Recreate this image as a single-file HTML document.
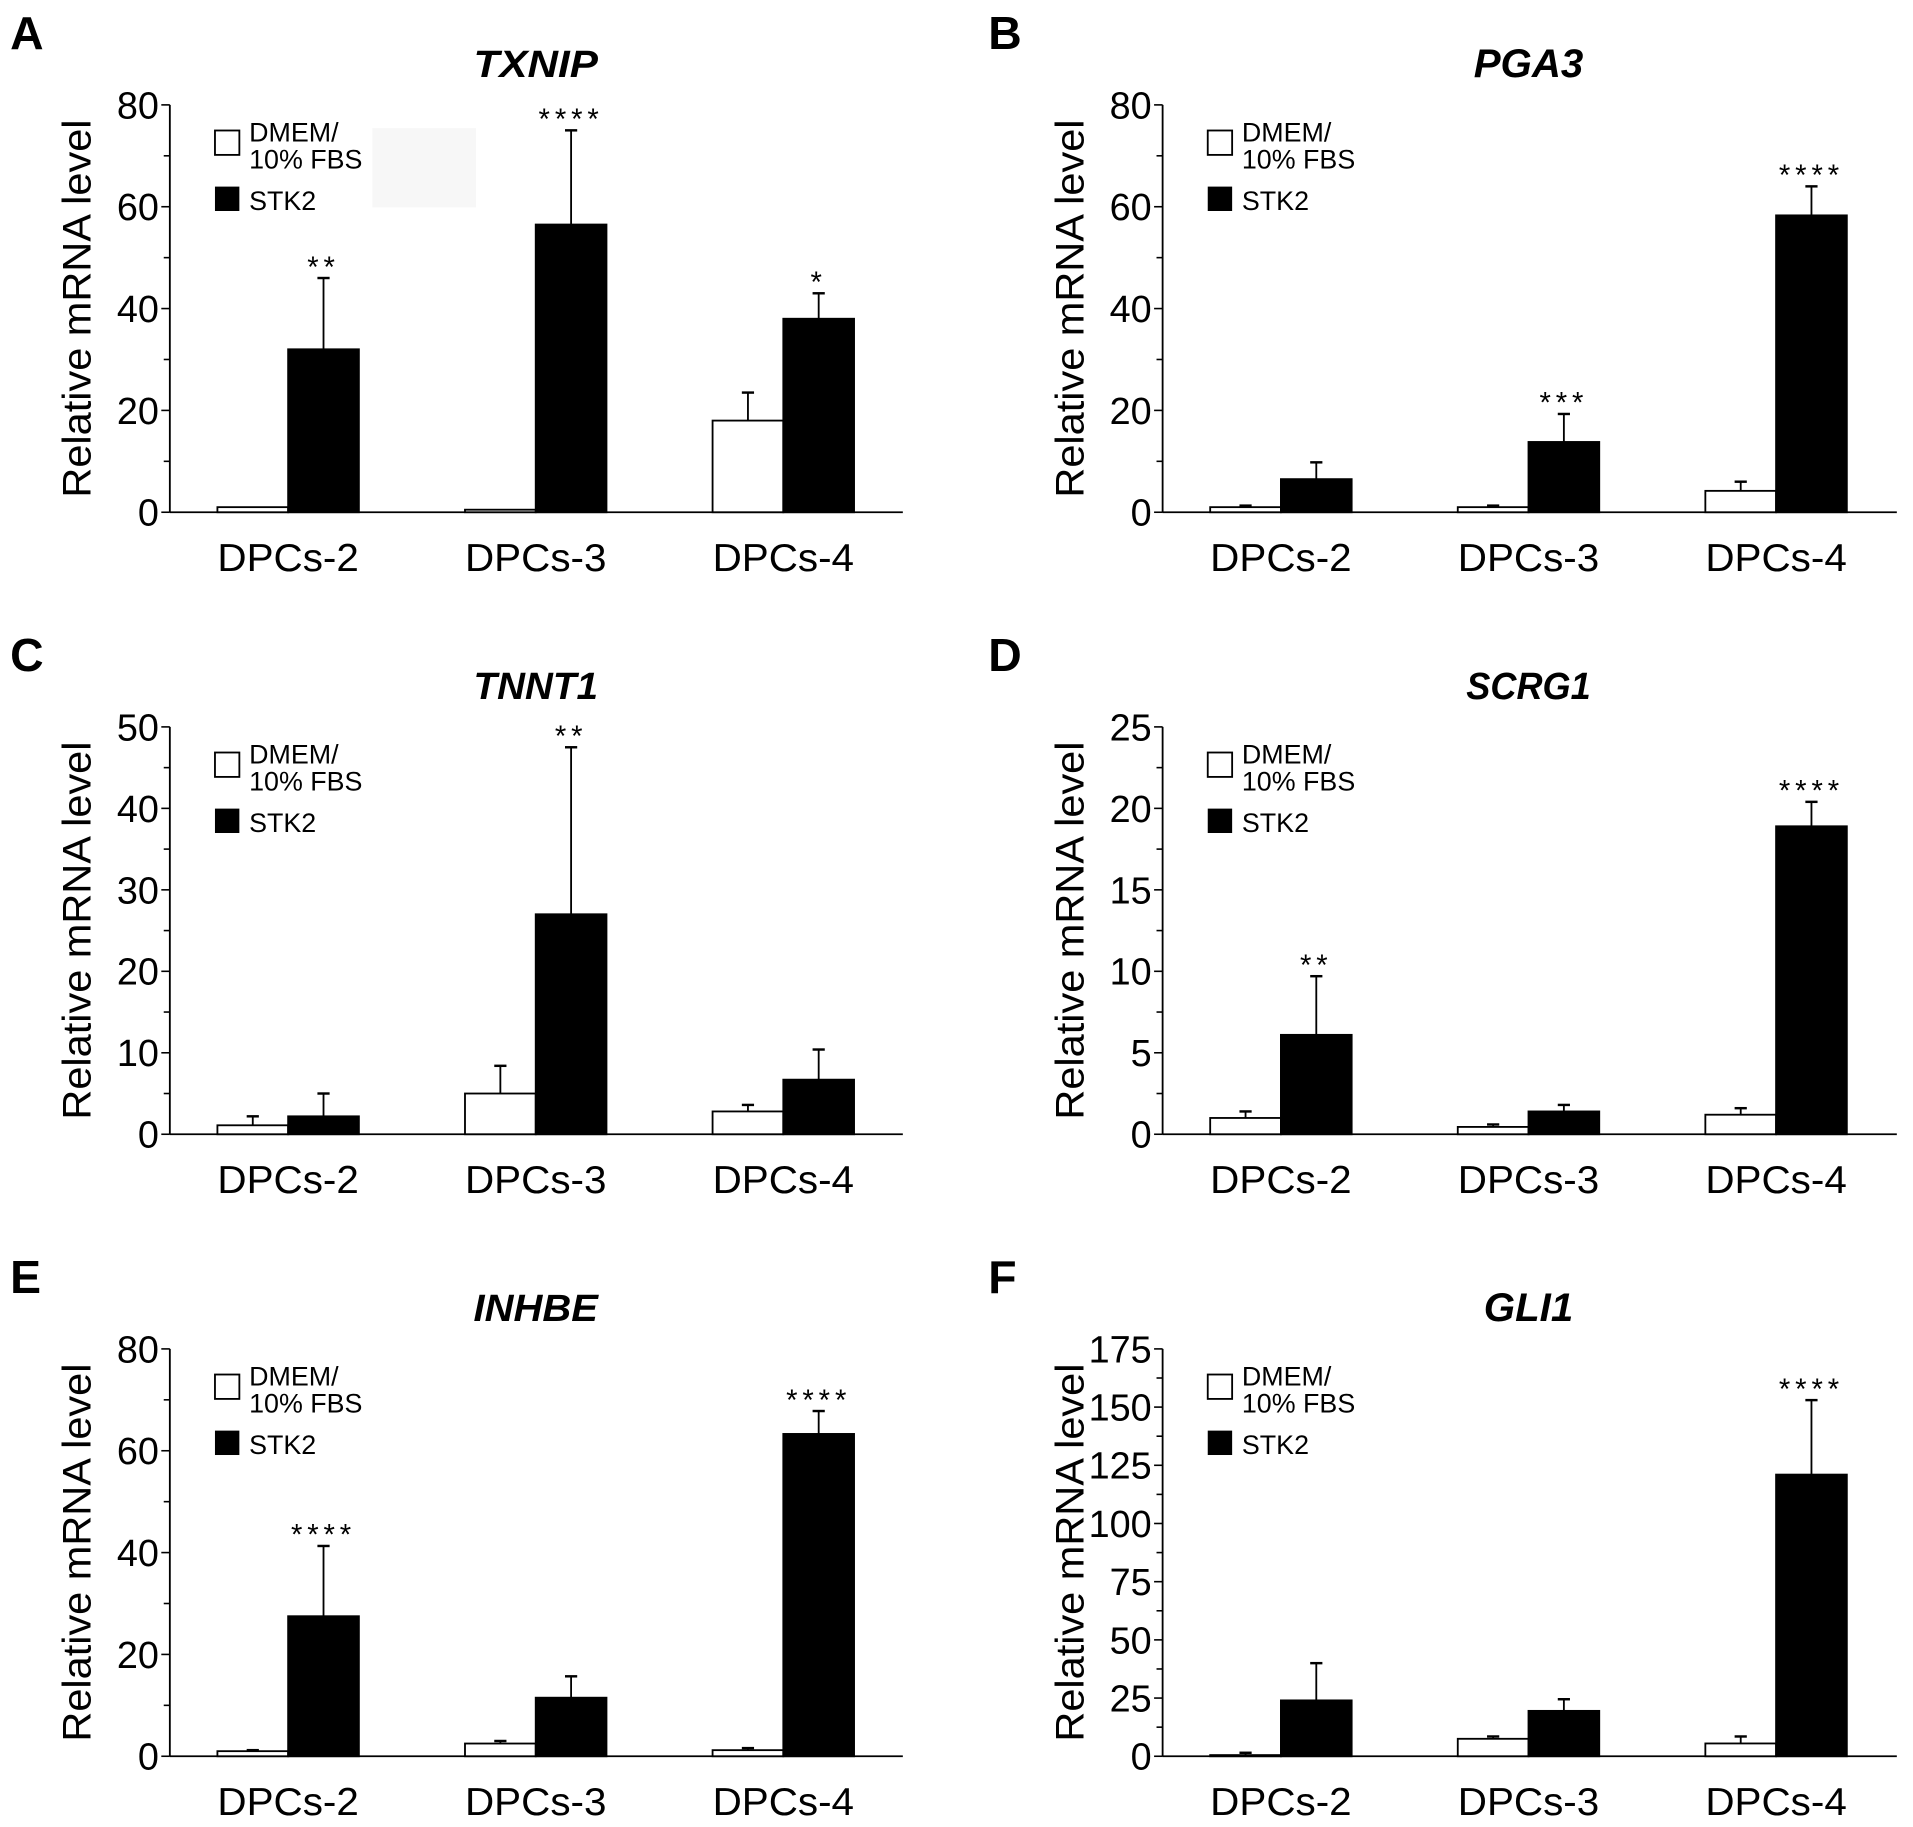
<!DOCTYPE html>
<html><head><meta charset="utf-8"><style>
html,body{margin:0;padding:0;background:#fff;}
svg{display:block;font-family:"Liberation Sans",Arial,sans-serif;}
</style></head><body>
<svg id="fig" width="1913" height="1827" viewBox="0 0 1568 1498" xmlns="http://www.w3.org/2000/svg">
<rect x="0" y="0" width="1568" height="1498" fill="#fff"/>
<rect x="305" y="105" width="85" height="65" fill="#f7f7f7"/>
</svg>
<script>
const categories = ["DPCs-2","DPCs-3","DPCs-4"];
const panelLetters = ["A","B","C","D","E","F"];
const panelTitles = ["TXNIP","PGA3","TNNT1","SCRG1","INHBE","GLI1"];
const yMaxes = [80,80,50,25,80,175];
const yTickSteps = [20,20,10,5,20,25];
const whiteA = [1,0.5,18];      const whiteErrA = [1,0.5,23.5];
const blackA = [32,56.5,38];    const blackErrA = [46,75,43];
const starsA = ["**","****","*"];
const whiteB = [1,1,4.2];       const whiteErrB = [1.3,1.3,6];
const blackB = [6.5,13.8,58.3]; const blackErrB = [9.8,19.3,64];
const starsB = ["","***","****"];
const whiteC = [1.1,5,2.8];     const whiteErrC = [2.2,8.4,3.6];
const blackC = [2.2,27,6.7];    const blackErrC = [5,47.5,10.4];
const starsC = ["","**",""];
const whiteD = [1,0.45,1.2];    const whiteErrD = [1.4,0.6,1.6];
const blackD = [6.1,1.4,18.9];  const blackErrD = [9.7,1.8,20.4];
const starsD = ["**","","****"];
const whiteE = [1,2.5,1.2];     const whiteErrE = [1.2,3,1.6];
const blackE = [27.5,11.5,63.3];const blackErrE = [41.3,15.7,67.8];
const starsE = ["****","","****"];
const whiteF = [0.5,7.5,5.5];   const whiteErrF = [1.5,8.5,8.5];
const blackF = [24,19.5,121];   const blackErrF = [40,24.5,153];
const starsF = ["","","****"];

const whites=[whiteA,whiteB,whiteC,whiteD,whiteE,whiteF];
const whiteErrs=[whiteErrA,whiteErrB,whiteErrC,whiteErrD,whiteErrE,whiteErrF];
const blacks=[blackA,blackB,blackC,blackD,blackE,blackF];
const blackErrs=[blackErrA,blackErrB,blackErrC,blackErrD,blackErrE,blackErrF];
const starsAll=[starsA,starsB,starsC,starsD,starsE,starsF];

const NS="http://www.w3.org/2000/svg";
const svg=document.getElementById('fig');
function mk(tag,attrs,parent){const e=document.createElementNS(NS,tag);for(const k in attrs)e.setAttribute(k,attrs[k]);(parent||svg).appendChild(e);return e;}

for(let p=0;p<6;p++){
  const col=p%2,row=Math.floor(p/2);
  const ax=col?953:139, axR=col?1555:740;
  const y0=[420,930,1440][row], yT=y0-334;
  const g=mk('g',{});
  
  
  const ys=v=>y0-(v/yMaxes[p])*(y0-yT);
  const groupC=i=>ax+97+i*203;
  let t=mk('text',{x:col?810:8,y:y0-380,'font-size':38,'font-weight':'bold'},g);t.textContent=panelLetters[p];
  
  t=mk('text',{x:ax+300,y:y0-357,'font-size':31,'font-weight':'bold','font-style':'italic','text-anchor':'middle',textLength:102,lengthAdjust:'spacingAndGlyphs'},g);t.textContent=panelTitles[p];
  if(panelTitles[p].length<5){t.removeAttribute('textLength');t.removeAttribute('lengthAdjust');t.setAttribute('font-size',33);}
  
  t=mk('text',{x:0,y:0,'font-size':33,'text-anchor':'middle',transform:`translate(${ax-65},${(y0+yT)/2}) rotate(-90)`,textLength:310,lengthAdjust:'spacingAndGlyphs'},g);t.textContent='Relative mRNA level';
  
  let l=mk('line',{x1:ax,y1:yT,x2:ax,y2:y0,stroke:'#000','stroke-width':1.5},g);
  
  l=mk('line',{x1:ax,y1:y0,x2:axR,y2:y0,stroke:'#000','stroke-width':1.5},g);
  
  const st=yTickSteps[p];
  for(let v=0;v<=yMaxes[p]+1e-9;v+=st/2){
    const major=Math.abs(v/st-Math.round(v/st))<1e-6;
    mk('line',{x1:ax-(major?7:5),y1:ys(v),x2:ax,y2:ys(v),stroke:'#000','stroke-width':1.3},g);
    if(major){t=mk('text',{x:ax-9,y:ys(v)+11,'font-size':31,'text-anchor':'end'},g);t.textContent=v;
      }
  }
  for(let i=0;i<3;i++){
    const c=groupC(i);
    t=mk('text',{x:c,y:y0+48,'font-size':32,'text-anchor':'middle',textLength:116,lengthAdjust:'spacingAndGlyphs'},g);t.textContent=categories[i];
    
    [[whiteErrs[p][i],whites[p][i],c-29],[blackErrs[p][i],blacks[p][i],c+29]].forEach(([e,v,cx])=>{
      if(e>v){mk('line',{x1:cx,y1:ys(v),x2:cx,y2:ys(e),stroke:'#000','stroke-width':1.5},g);
        mk('line',{x1:cx-5,y1:ys(e),x2:cx+5,y2:ys(e),stroke:'#000','stroke-width':2},g);}
    });
    let r=mk('rect',{x:c-58,y:ys(whites[p][i]),width:58,height:y0-ys(whites[p][i]),fill:'#fff',stroke:'#000','stroke-width':1.5},g);
    
    r=mk('rect',{x:c,y:ys(blacks[p][i]),width:58,height:y0-ys(blacks[p][i]),fill:'#000',stroke:'#000','stroke-width':1.5},g);
    
    if(starsAll[p][i]){t=mk('text',{x:c+29,y:ys(blackErrs[p][i])-1,'font-size':24,'text-anchor':'middle','letter-spacing':4},g);t.textContent=starsAll[p][i];
      }
  }
  const lg=mk('g',{},g);
  
  const lx=ax+37, ly=yT+21;
  mk('rect',{x:lx,y:ly,width:20,height:20,fill:'#fff',stroke:'#000','stroke-width':1.5},lg);
  t=mk('text',{x:lx+28,y:ly+9,'font-size':22},lg);t.textContent='DMEM/';
  t=mk('text',{x:lx+28,y:ly+31,'font-size':22},lg);t.textContent='10% FBS';
  mk('rect',{x:lx,y:ly+46,width:20,height:20,fill:'#000'},lg);
  t=mk('text',{x:lx+28,y:ly+65,'font-size':22},lg);t.textContent='STK2';
}
</script>
</body></html>
